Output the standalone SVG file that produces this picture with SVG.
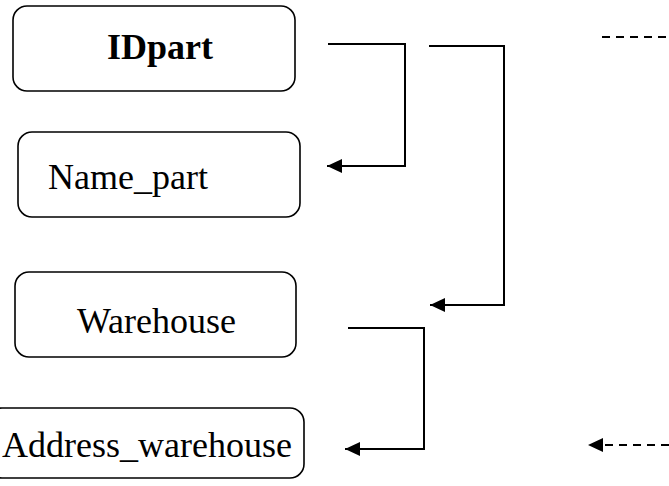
<svg xmlns="http://www.w3.org/2000/svg" width="669" height="486" viewBox="0 0 669 486">
<style>
.box{fill:#fff;stroke:#000;stroke-width:1.6}
.t{font-family:"Liberation Serif","Times New Roman",serif;font-size:36px;fill:#000}
.b{font-weight:bold}
.c{fill:none;stroke:#000;stroke-width:2}
.d{fill:none;stroke:#000;stroke-width:2;stroke-dasharray:8 6}
</style>
<defs>
<marker id="ah" markerWidth="16" markerHeight="14" refX="15" refY="7" orient="auto" markerUnits="userSpaceOnUse">
<path d="M0,0 L15,7 L0,14 z" fill="#000"/>
</marker>
</defs>
<rect width="669" height="486" fill="#fff"/>
<g id="n1"><rect class="box" x="13" y="6" width="282" height="85" rx="14"/><text class="t b" x="160" y="59" text-anchor="middle">IDpart</text></g>
<g id="n2"><rect class="box" x="18" y="132" width="282" height="85" rx="14"/><text class="t" x="48" y="189">Name_part</text></g>
<g id="n3"><rect class="box" x="15" y="272" width="281" height="85" rx="14"/><text class="t" x="77" y="333">Warehouse</text></g>
<g id="n4"><rect class="box" x="-12" y="408" width="316" height="70" rx="14"/><text class="t" x="2" y="457">Address_warehouse</text></g>
<g id="connectors">
<path class="c" d="M328,44 H405 V166 H327" marker-end="url(#ah)"/>
<path class="c" d="M429,46 H504 V305 H430" marker-end="url(#ah)"/>
<path class="c" d="M348,328 H424 V449 H345" marker-end="url(#ah)"/>
<path class="d" d="M602,37 H669"/>
<path class="d" d="M669,445 H588" marker-end="url(#ah)"/>
</g>
</svg>
